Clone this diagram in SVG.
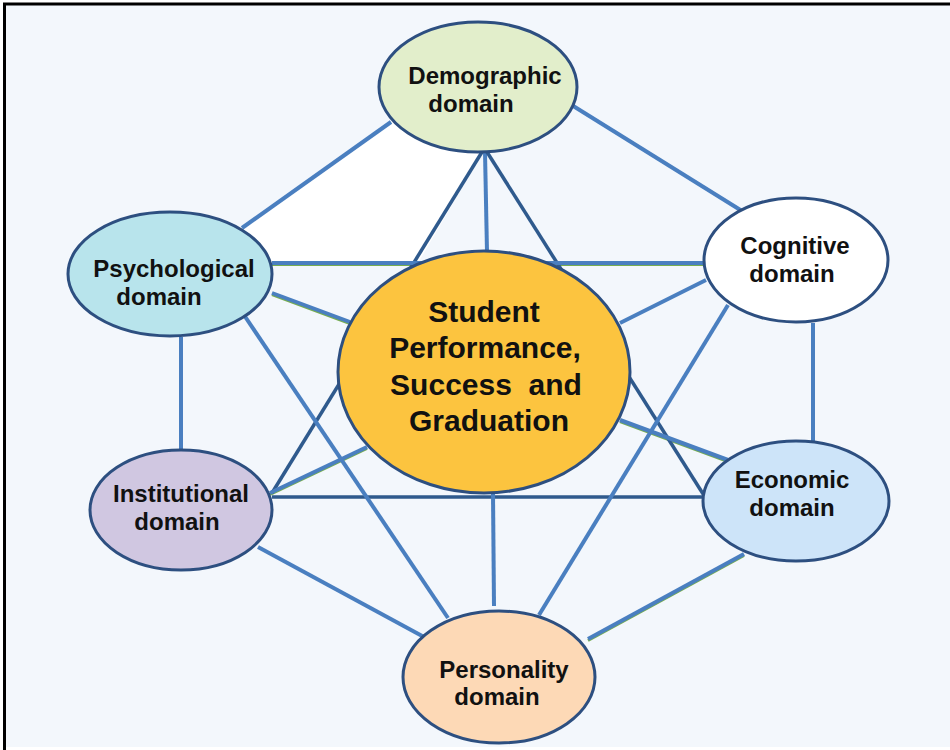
<svg xmlns="http://www.w3.org/2000/svg" width="950" height="750" viewBox="0 0 950 750">
<style>
.ln{stroke:#4a7fc0;stroke-width:4;fill:none;stroke-linecap:butt}
.dk{stroke:#2f5a8d;stroke-width:3.5;fill:none}
.gr{stroke:#77ad50;stroke-width:3;fill:none}
.nd{stroke:#2d4f80;stroke-width:3}
.t{font-family:"Liberation Sans",Arial,sans-serif;font-weight:bold;font-size:24px;fill:#111;text-anchor:middle}
.tc{font-family:"Liberation Sans",Arial,sans-serif;font-weight:bold;font-size:30px;fill:#111;text-anchor:middle}
</style>
<rect x="0" y="0" width="950" height="750" fill="#ffffff"/>
<rect x="6" y="5" width="944" height="742" fill="#f3f7fc"/>
<line x1="3" y1="4" x2="950" y2="4" stroke="#000" stroke-width="3"/>
<line x1="4.5" y1="3" x2="4.5" y2="750" stroke="#000" stroke-width="3"/>
<polygon points="391,122 242,228 268,263 418,263 483,152" fill="#ffffff"/>
<g id="connectors">
<g transform="translate(0,1.5)">
<line class="gr" x1="272" y1="263" x2="705" y2="263"/>
<line class="gr" x1="272" y1="293" x2="350" y2="322"/>
<line class="gr" x1="620" y1="420" x2="728" y2="460"/>
<line class="gr" x1="367" y1="447" x2="270" y2="493"/>
<line class="gr" x1="744" y1="554" x2="588" y2="639"/>
</g>
<line class="ln" x1="391" y1="122" x2="242" y2="228"/>
<line class="ln" x1="570" y1="104" x2="742" y2="211"/>
<line class="ln" x1="485" y1="152" x2="487" y2="252"/>
<line class="dk" x1="482" y1="152" x2="272" y2="493"/>
<line class="dk" x1="487" y1="152" x2="705" y2="497"/>
<line class="dk" x1="272" y1="497" x2="704" y2="497"/>
<line class="ln" x1="272" y1="263" x2="705" y2="263"/>
<line class="ln" x1="272" y1="293" x2="350" y2="322"/>
<line class="ln" x1="242" y1="312" x2="448" y2="618"/>
<line class="ln" x1="181" y1="337" x2="181" y2="450"/>
<line class="ln" x1="706" y1="280" x2="620" y2="323"/>
<line class="ln" x1="728" y1="305" x2="539" y2="615"/>
<line class="ln" x1="813" y1="323" x2="813" y2="442"/>
<line class="ln" x1="620" y1="420" x2="728" y2="460"/>
<line class="ln" x1="367" y1="447" x2="270" y2="493"/>
<line class="ln" x1="493" y1="493" x2="494" y2="606"/>
<line class="ln" x1="258" y1="547" x2="424" y2="637"/>
<line class="ln" x1="744" y1="554" x2="588" y2="639"/>
</g>
<g id="center">
<ellipse class="nd" cx="484" cy="372" rx="146" ry="121" fill="#fcc43f" stroke-width="2.5"/>
<text class="tc" x="484" y="322">Student</text>
<text class="tc" x="485" y="358">Performance,</text>
<text class="tc" x="486" y="395" xml:space="preserve">Success  and</text>
<text class="tc" x="489" y="431">Graduation</text>
</g>
<g id="demographic">
<ellipse class="nd" cx="478" cy="87" rx="99" ry="65" fill="#e2eecb"/>
<text class="t" x="485" y="84">Demographic</text>
<text class="t" x="471" y="112">domain</text>
</g>
<g id="psychological">
<ellipse class="nd" cx="170" cy="274" rx="102" ry="62" fill="#b8e4ec"/>
<text class="t" x="174" y="277">Psychological</text>
<text class="t" x="159" y="305">domain</text>
</g>
<g id="cognitive">
<ellipse class="nd" cx="796" cy="260" rx="92" ry="62" fill="#ffffff"/>
<text class="t" x="795" y="254">Cognitive</text>
<text class="t" x="792" y="282">domain</text>
</g>
<g id="institutional">
<ellipse class="nd" cx="181" cy="510" rx="91" ry="60" fill="#d0c7e1"/>
<text class="t" x="181" y="502">Institutional</text>
<text class="t" x="177" y="530">domain</text>
</g>
<g id="economic">
<ellipse class="nd" cx="796" cy="501" rx="93" ry="60" fill="#cde4f9"/>
<text class="t" x="792" y="488">Economic</text>
<text class="t" x="792" y="516">domain</text>
</g>
<g id="personality">
<ellipse class="nd" cx="499" cy="677" rx="96" ry="66" fill="#fdd9b6"/>
<text class="t" x="504" y="678">Personality</text>
<text class="t" x="497" y="705">domain</text>
</g>
</svg>
